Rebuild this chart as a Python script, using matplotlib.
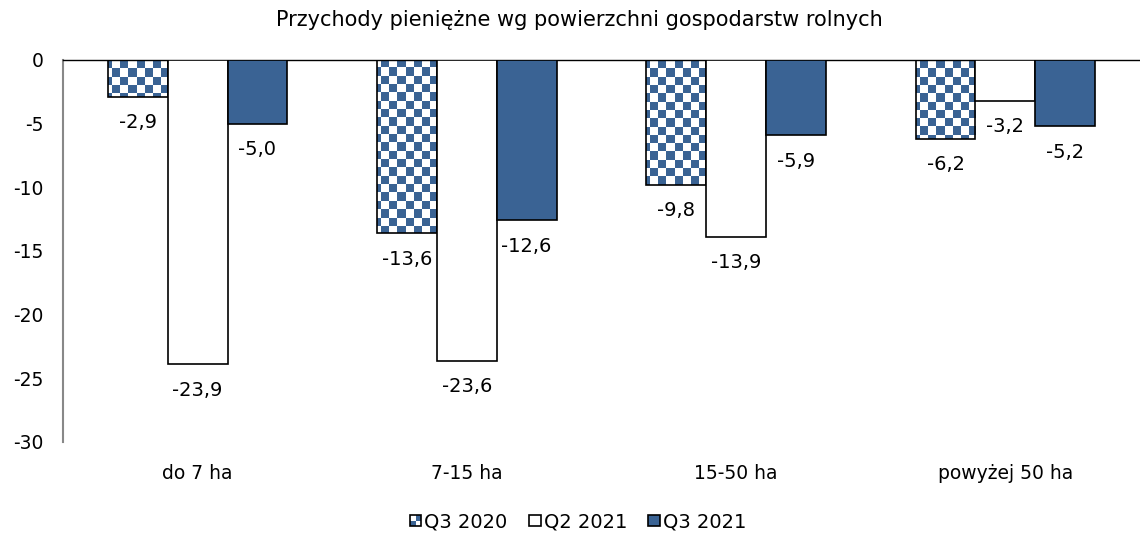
import numpy as np
import matplotlib
matplotlib.use("Agg")
import matplotlib.pyplot as plt
from matplotlib.patches import Rectangle
from matplotlib.legend_handler import HandlerBase
from matplotlib.colors import ListedColormap

categories = ["do 7 ha", "7-15 ha", "15-50 ha", "powyżej 50 ha"]
q3_2020 = [-2.9, -13.6, -9.8, -6.2]
q2_2021 = [-23.9, -23.6, -13.9, -3.2]
q3_2021 = [-5.0, -12.6, -5.9, -5.2]
series_names = ["Q3 2020", "Q2 2021", "Q3 2021"]
yticks = [0, -5, -10, -15, -20, -25, -30]
title = "Przychody pieniężne wg powierzchni gospodarstw rolnych"

BLUE = "#3A6394"
plt.rcParams['font.family'] = ['DejaVu Sans']

fig = plt.figure(figsize=(11.40, 5.39), dpi=100)
ax = fig.add_axes([63 / 1140, 1 - 442 / 539, 1077 / 1140, 382 / 539])

x = np.arange(len(categories))
w = 0.222

b1 = ax.bar(x - w, q3_2020, w, facecolor="white", edgecolor="black", linewidth=1.2, zorder=3)
b2 = ax.bar(x, q2_2021, w, facecolor="white", edgecolor="black", linewidth=1.2, zorder=3)
b3 = ax.bar(x + w, q3_2021, w, facecolor=BLUE, edgecolor="black", linewidth=1.2, zorder=3)

# checker pattern for Q3 2020
nrows, ncols = 46, 132
checker = (np.add.outer(np.arange(nrows), np.arange(ncols)) % 2).astype(float)
cmap = ListedColormap(["white", BLUE])
for r in b1:
    im = ax.imshow(checker, cmap=cmap, extent=(-0.5, 3.5, -30, 0), aspect="auto",
                   interpolation="nearest", zorder=2.5, origin="upper")
    im.set_clip_path(r)
    r.set_facecolor("none")
ax.set_xlim(-0.5, 3.5)
ax.set_ylim(-30, 0)

def fmt(v):
    return f"{v:.1f}".replace(".", ",")

for bars, vals in [(b1, q3_2020), (b2, q2_2021), (b3, q3_2021)]:
    for r, v in zip(bars, vals):
        ax.annotate(fmt(v), (r.get_x() + r.get_width() / 2, v), xytext=(0, -26),
                    textcoords="offset pixels", ha="center", va="center", fontsize=14)

ax.set_xticks(x)
ax.set_xticklabels(categories, fontsize=13.5)
ax.set_yticks(yticks)
ax.set_yticklabels([str(t) for t in yticks], fontsize=13.5)
ax.tick_params(axis="both", length=0)
ax.tick_params(axis="x", pad=16)
ax.tick_params(axis="y", pad=14)
ax.spines["right"].set_visible(False)
ax.spines["bottom"].set_visible(False)
ax.spines["top"].set_color("black")
ax.spines["top"].set_linewidth(1.0)
ax.spines["left"].set_color("#888888")
ax.spines["left"].set_linewidth(1.5)

fig.text(579 / 1140, 1 - 20 / 539, title, ha="center", va="center", fontsize=15)


class CheckerHandler(HandlerBase):
    def create_artists(self, legend, orig_handle, xdescent, ydescent, width, height, fontsize, trans):
        s = min(width, height)
        x0 = -xdescent + (width - s) / 2
        y0 = -ydescent + (height - s) / 2
        arts = []
        h = s / 2
        for i in range(2):
            for j in range(2):
                c = BLUE if (i + j) % 2 == 0 else "white"
                arts.append(Rectangle((x0 + i * h, y0 + j * h), h, h, facecolor=c,
                                      edgecolor="none", transform=trans))
        arts.append(Rectangle((x0, y0), s, s, facecolor="none", edgecolor="black",
                              linewidth=1.2, transform=trans))
        return arts


class SquareHandler(HandlerBase):
    def create_artists(self, legend, orig_handle, xdescent, ydescent, width, height, fontsize, trans):
        s = min(width, height)
        x0 = -xdescent + (width - s) / 2
        y0 = -ydescent + (height - s) / 2
        return [Rectangle((x0, y0), s, s, facecolor=orig_handle.get_facecolor(),
                          edgecolor="black", linewidth=1.2, transform=trans)]


h1 = Rectangle((0, 0), 1, 1, facecolor=BLUE)
h2 = Rectangle((0, 0), 1, 1, facecolor="white")
h3 = Rectangle((0, 0), 1, 1, facecolor=BLUE)
leg = fig.legend([h1, h2, h3], series_names, loc="center", bbox_to_anchor=(578 / 1140, 1 - 522 / 539),
                 ncol=3, frameon=False, fontsize=14, handlelength=0.6, handleheight=0.6,
                 handletextpad=0.15, columnspacing=1.1,
                 handler_map={h1: CheckerHandler(), h2: SquareHandler(), h3: SquareHandler()})

fig.savefig("out.png", dpi=100)
